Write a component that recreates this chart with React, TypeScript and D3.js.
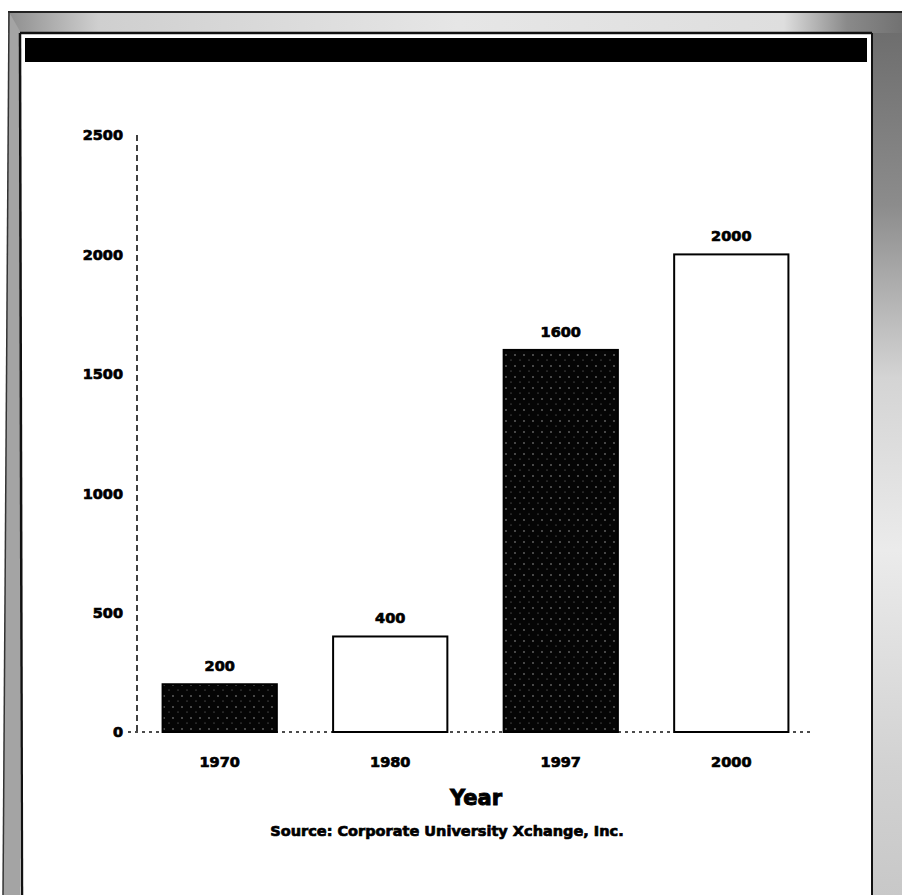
import React from "react";
import * as d3 from "d3";

const years: string[] = ["1970", "1980", "1997", "2000"];
const values: number[] = [200, 400, 1600, 2000];
const filled: boolean[] = [true, false, true, false];
const yTicks: number[] = [0, 500, 1000, 1500, 2000, 2500];
const xTitle = "Year";
const sourceText = "Source: Corporate University Xchange, Inc.";

const W = 902;
const H = 895;
const FONT = "'DejaVu Sans', 'Liberation Sans', Arial, sans-serif";

export default function App() {
  const y = d3.scaleLinear().domain([0, 2500]).range([732, 135]);
  const x = d3
    .scaleBand<string>()
    .domain(years)
    .range([137, 814])
    .paddingInner(0.33)
    .paddingOuter(0.15);
  const bw = x.bandwidth();
  const axisX = 137;

  const heavy = { stroke: "#000", strokeWidth: 0.7, paintOrder: "stroke" as const };

  return (
    <svg
      width={W}
      height={H}
      style={{ position: "absolute", left: 0, top: 0, background: "#fff" }}
    >
      <defs>
        <linearGradient id="topBand" x1="0" x2="1" y1="0" y2="0">
          <stop offset="0" stopColor="#8e8e8e" />
          <stop offset="0.1" stopColor="#cfcfcf" />
          <stop offset="0.5" stopColor="#e6e6e6" />
          <stop offset="0.86" stopColor="#dedede" />
          <stop offset="0.93" stopColor="#8a8a8a" />
          <stop offset="1" stopColor="#6e6e6e" />
        </linearGradient>
        <linearGradient id="rightBand" x1="0" x2="0" y1="0" y2="1">
          <stop offset="0" stopColor="#6e6e6e" />
          <stop offset="0.2" stopColor="#8c8c8c" />
          <stop offset="0.4" stopColor="#d4d4d4" />
          <stop offset="0.6" stopColor="#ebebeb" />
          <stop offset="0.85" stopColor="#d2d2d2" />
          <stop offset="1" stopColor="#c8c8c8" />
        </linearGradient>
        <pattern id="speck" width="9" height="11" patternUnits="userSpaceOnUse">
          <rect width="9" height="11" fill="#050505" />
          <circle cx="2" cy="3" r="0.7" fill="#bbb" />
          <circle cx="7" cy="8" r="0.5" fill="#999" />
        </pattern>
      </defs>

      {/* frame */}
      <rect x={8} y={12} width={W} height={21} fill="url(#topBand)" />
      <polygon points={`9,12 21,33 22,${H} 3,${H}`} fill="#a4a4a4" />
      <rect x={872} y={33} width={30} height={H - 33} fill="url(#rightBand)" />
      <line x1={8} y1={12} x2={W} y2={12} stroke="#222" strokeWidth={2} />
      <line x1={9} y1={12} x2={3} y2={H} stroke="#333" strokeWidth={1.5} />
      <rect x={20} y={33} width={852} height={H - 33} fill="#fff" />
      <line x1={20} y1={33} x2={872} y2={33} stroke="#111" strokeWidth={2.5} />
      <line x1={20} y1={33} x2={22} y2={H} stroke="#111" strokeWidth={2.5} />
      <line x1={872} y1={33} x2={872} y2={H} stroke="#111" strokeWidth={2} />
      <rect x={25} y={38} width={842} height={24} fill="#000" />

      {/* y axis */}
      <line
        x1={axisX}
        x2={axisX}
        y1={y(2500)}
        y2={y(0)}
        stroke="#111"
        strokeWidth={1.6}
        strokeDasharray="6 4"
      />
      <line
        x1={128}
        x2={814}
        y1={y(0)}
        y2={y(0)}
        stroke="#111"
        strokeWidth={1.4}
        strokeDasharray="3 4"
      />
      {yTicks.map((t) => (
        <text
          key={t}
          x={123}
          y={y(t)}
          dy="0.37em"
          textAnchor="end"
          fontFamily={FONT}
          fontWeight="bold"
          fontSize={14.5}
          fill="#000"
          {...heavy}
        >
          {t}
        </text>
      ))}

      {/* bars */}
      {years.map((yr, i) => {
        const x0 = x(yr) as number;
        const top = y(values[i]);
        return (
          <g key={yr}>
            <rect
              x={x0}
              y={top}
              width={bw}
              height={y(0) - top}
              fill={filled[i] ? "url(#speck)" : "#fff"}
              stroke="#000"
              strokeWidth={2}
            />
            <text
              x={x0 + bw / 2}
              y={top - 13}
              textAnchor="middle"
              fontFamily={FONT}
              fontWeight="bold"
              fontSize={14.5}
              fill="#000"
              {...heavy}
            >
              {values[i]}
            </text>
            <text
              x={x0 + bw / 2}
              y={767}
              textAnchor="middle"
              fontFamily={FONT}
              fontWeight="bold"
              fontSize={14.5}
              fill="#000"
              {...heavy}
            >
              {yr}
            </text>
          </g>
        );
      })}

      <text
        x={476}
        y={805}
        textAnchor="middle"
        fontFamily={FONT}
        fontWeight="bold"
        fontSize={21}
        fill="#000"
        stroke="#000"
        strokeWidth={0.9}
      >
        {xTitle}
      </text>
      <text
        x={447}
        y={836}
        textAnchor="middle"
        fontFamily={FONT}
        fontWeight="bold"
        fontSize={14.5}
        fill="#000"
        {...heavy}
      >
        {sourceText}
      </text>
    </svg>
  );
}
